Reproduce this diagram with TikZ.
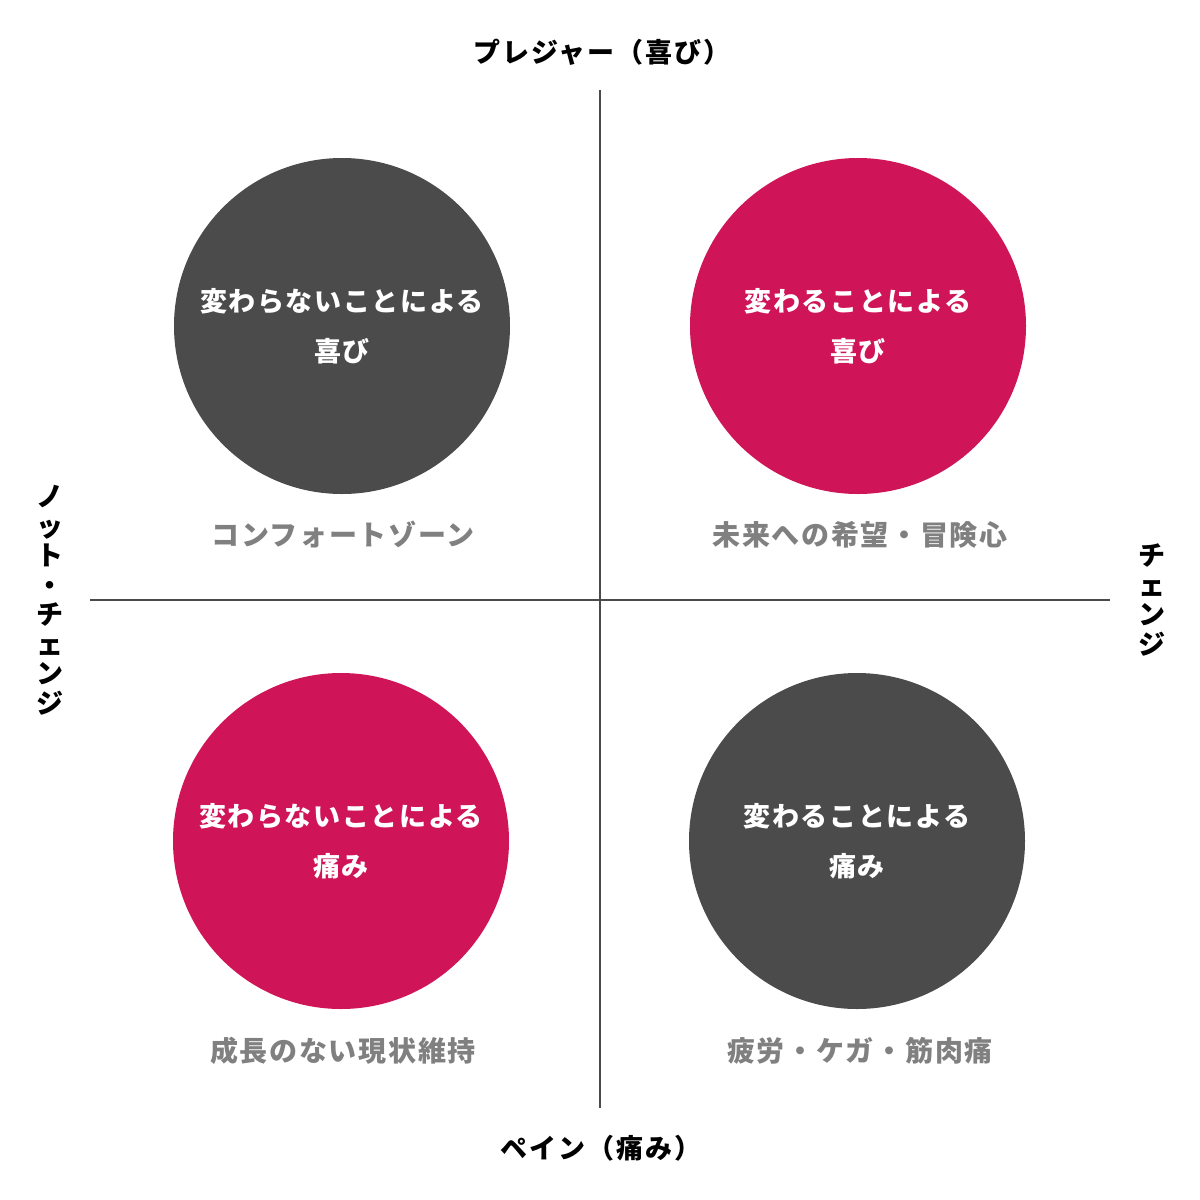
\documentclass[tikz,border=0pt]{standalone}
\usepackage{fontspec}
\setmainfont{Noto Sans CJK JP}
\definecolor{darkc}{HTML}{4B4B4B}
\definecolor{crim}{HTML}{D01458}
\definecolor{graytxt}{HTML}{808080}
\definecolor{axisc}{HTML}{4A4A4A}
\tikzset{
  quad/.style={circle,inner sep=0pt,minimum size=336pt,text=white,align=center,
    font=\fontsize{27}{50}\selectfont\bfseries\addfontfeature{LetterSpace=6}},
  darkq/.style={quad,fill=darkc},
  crimq/.style={quad,fill=crim},
  sublabel/.style={text=graytxt,inner sep=0pt,font=\fontsize{28}{30}\selectfont\bfseries\addfontfeature{LetterSpace=6}},
  axislabel/.style={text=black,inner sep=0pt,font=\fontsize{27}{30}\selectfont\bfseries\addfontfeature{LetterSpace=7}},
  vlabel/.style={text=black,inner sep=0pt,align=center,font=\fontsize{27}{29.5}\selectfont\bfseries},
  axisline/.style={draw=axisc,line width=2pt}
}
\begin{document}
\begin{tikzpicture}[x=1pt,y=-1pt]
\useasboundingbox[fill=white] (0,0) rectangle (1200,1200);
\coordinate (vtop) at (600,90);
\coordinate (vbot) at (600,1108);
\coordinate (hleft) at (90,600);
\coordinate (hright) at (1110,600);
\draw[axisline] (vtop) -- (vbot);
\draw[axisline] (hleft) -- (hright);
\node[darkq] (tl) at (342,326) {変わらないことによる\\喜び};
\node[crimq] (tr) at (858,326) {変わることによる\\喜び};
\node[crimq] (bl) at (341,841) {変わらないことによる\\痛み};
\node[darkq] (br) at (857,841) {変わることによる\\痛み};
\node[sublabel] (tls) at (343,535) {コンフォートゾーン};
\node[sublabel] (trs) at (860,535) {未来への希望・冒険心};
\node[sublabel] (bls) at (343,1051) {成長のない現状維持};
\node[sublabel] (brs) at (860,1051) {疲労・ケガ・筋肉痛};
\node[axislabel] (top) at (602,52) {プレジャー（喜び）};
\node[axislabel] (bot) at (601,1148) {ペイン（痛み）};
\node[vlabel] (left) at (50,600) {ノ\\ッ\\ト\\・\\チ\\ェ\\ン\\ジ};
\node[vlabel] (right) at (1152,600) {チ\\ェ\\ン\\ジ};
\end{tikzpicture}
\end{document}
